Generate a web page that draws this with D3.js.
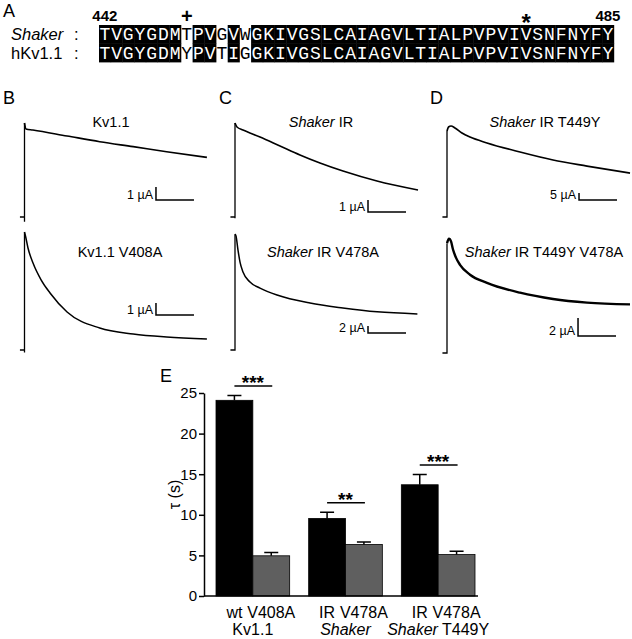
<!DOCTYPE html>
<html><head><meta charset="utf-8">
<script src="https://cdn.jsdelivr.net/npm/d3@7"></script>
<style>
html,body{margin:0;padding:0;background:#fff;}
svg{display:block;font-family:"Liberation Sans",Arial,Helvetica,sans-serif;}
</style></head><body>
<svg id="fig" width="632" height="639"></svg>
<script>
// ================= DATA =================
// Panel A: sequence alignment
const seqStart = 442;
const seqShaker = "TVGYGDMTPVGVWGKIVGSLCAIAGVLTIALPVPVIVSNFNYFY";
const seqKv11   = "TVGYGDMYPVTIGGKIVGSLCAIAGVLTIALPVPVIVSNFNYFY";
const seqRowNames = ["Shaker", "hKv1.1"];
const unshadedResidues = [449, 452, 454];
const residueMarks = [{res: 449, sym: "+"}, {res: 478, sym: "*"}];
const numberedResidues = [442, 485];

// Panels B-D: current traces, [time (s), current (µA)]
const traceKv11 = [[-0.6,0],[0,0],[0,-0.37],[0,7.23],[0.2,6.77],[1.1,6.69],[5.6,6.23],[9.9,5.79],[14.3,5.41],[18.7,5.02],[24,4.59]];
const traceKv11V408A = [[-0.6,0],[0,0],[0,-0.2],[0,9.83],[0.13,9.5],[0.46,8.5],[1.12,7.25],[2.2,5.83],[3.36,4.75],[5.6,3.17],[9.9,1.83],[14.3,1.33],[18.7,1.08],[24,0.92]];
const traceShakerIR = [[-0.6,0],[0,0],[0,-0.1],[0,7.83],[0.26,7.5],[1.05,7.25],[3.29,6.67],[5.92,5.92],[8.55,5.17],[11.18,4.5],[14.21,3.83],[18.68,3.0],[24.08,2.25]];
const traceShakerV478A = [[-0.6,0],[0,0],[0,33.1],[0.13,32.6],[0.39,28.6],[0.66,25.1],[1.05,22.3],[1.97,19.4],[3.29,17.7],[5.53,15.7],[9.87,13.4],[14.2,12.0],[18.7,10.9],[24,10.3]];
const traceT449Y = [[-0.6,0],[0,0],[0,61.4],[0.2,64.3],[0.53,65.0],[1.05,63.6],[1.97,60.0],[3.03,57.1],[5.26,52.9],[9.61,46.4],[13.95,40.7],[18.42,36.4],[24.08,31.4]];
const traceT449YV478A = [[-0.6,0],[0,0],[0,12.2],[0.26,12.7],[0.53,12.4],[0.79,11.5],[1.18,10.6],[1.71,9.8],[3.03,8.7],[5.26,7.8],[9.61,6.7],[13.95,6.0],[18.42,5.6],[24.08,5.4]];
const traceTitles = ["Kv1.1", "Kv1.1 V408A", "Shaker IR", "Shaker IR V478A", "Shaker IR T449Y", "Shaker IR T449Y V478A"];
const scaleBarUA = [1, 1, 1, 2, 5, 2];
const scaleBarSec = 5;

// Panel E: inactivation time constants
const barLabels = ["wt", "V408A", "IR", "V478A", "IR", "V478A"];
const groupLabels = ["Kv1.1", "Shaker", "Shaker T449Y"];
const tauMean = [24.1, 4.95, 9.55, 6.35, 13.7, 5.1];
const tauSEM  = [0.6, 0.4, 0.75, 0.3, 1.25, 0.4];
const sigLabels = ["***", "**", "***"];
const yTicks = [0, 5, 10, 15, 20, 25];

// ================= LAYOUT =================
const svg = d3.select("#fig");
function rich(sel, str) {
  str.split(/(Shaker)/).filter(s => s.length).forEach(p =>
    sel.append("tspan").attr("font-style", p === "Shaker" ? "italic" : "normal").text(p));
  return sel;
}
function panelLetter(x, y, s) {
  svg.append("text").attr("x", x).attr("y", y).attr("font-size", 18).text(s);
}

// ---------- Panel A ----------
panelLetter(3, 17, "A");
const resNums = d3.range(seqStart, seqStart + seqShaker.length);
const resX = d3.scaleBand().domain(resNums).range([99, 99 + 11.7 * resNums.length]);
const rowY = d3.scaleBand().domain([0, 1]).range([25, 62]);
[seqShaker, seqKv11].forEach((seq, ri) => {
  const g = svg.append("g");
  g.selectAll("rect").data(resNums.filter(r => !unshadedResidues.includes(r))).join("rect")
    .attr("x", r => resX(r)).attr("y", rowY(ri))
    .attr("width", resX.bandwidth() + 0.4).attr("height", rowY.bandwidth() + 0.4).attr("fill", "#000");
  g.selectAll("text").data(resNums).join("text")
    .attr("x", r => resX(r) + resX.bandwidth() / 2).attr("y", rowY(ri) + 15)
    .attr("text-anchor", "middle").attr("font-family", "'Liberation Mono', monospace").attr("font-size", 18)
    .attr("fill", r => unshadedResidues.includes(r) ? "#000" : "#fff")
    .text(r => seq[r - seqStart]);
  const lab = svg.append("text").attr("x", 11).attr("y", rowY(ri) + 15).attr("font-size", 16.5);
  if (seqRowNames[ri] === "Shaker") lab.attr("font-style", "italic");
  lab.text(seqRowNames[ri]);
  svg.append("text").attr("x", 74).attr("y", rowY(ri) + 15).attr("font-size", 16.5).text(":");
});
svg.selectAll("text.num").data(numberedResidues).join("text").attr("class", "num")
  .attr("x", r => resX(r) + resX.bandwidth() / 2).attr("y", 21)
  .attr("text-anchor", "middle").attr("font-size", 15).attr("font-weight", "bold").text(r => r);
svg.selectAll("text.mark").data(residueMarks).join("text").attr("class", "mark")
  .attr("x", d => resX(d.res) + resX.bandwidth() / 2)
  .attr("y", d => d.sym === "*" ? 31 : 23)
  .attr("text-anchor", "middle").attr("font-weight", "bold")
  .attr("font-size", d => d.sym === "*" ? 24 : 20).text(d => d.sym);

// ---------- Panels B-D ----------
panelLetter(3, 104, "B");
panelLetter(219, 104, "C");
panelLetter(430, 104, "D");
const traces = [traceKv11, traceKv11V408A, traceShakerIR, traceShakerV478A, traceT449Y, traceT449YV478A];
const layout = [
  {x0: 24.5, base: 217, k: 13,  tx: 111, ty: 127, bt: 17.3,  bi: 1.31,  lw: 1.7},
  {x0: 24.5, base: 350, k: 12,  tx: 120, ty: 257, bt: 17.3,  bi: 2.92,  lw: 1.5},
  {x0: 235,  base: 217, k: 12,  tx: 321, ty: 127, bt: 17.5,  bi: 0.42,  lw: 1.6},
  {x0: 235,  base: 350, k: 3.5, tx: 323, ty: 257, bt: 17.5,  bi: 4.86,  lw: 1.5},
  {x0: 447,  base: 217, k: 1.4, tx: 545, ty: 127, bt: 17.37, bi: 12.14, lw: 1.7},
  {x0: 447,  base: 353, k: 9,   tx: 544, ty: 257, bt: 17.24, bi: 1.89,  lw: 2.4}
];
traces.forEach((data, i) => {
  const L = layout[i];
  const g = svg.append("g");
  const x = d3.scaleLinear().domain([0, 24]).range([L.x0, L.x0 + 24 * 7.6]);
  const y = d3.scaleLinear().domain([0, 1]).range([L.base, L.base - L.k]);
  const split = data.findIndex(d => d[0] > 0) - 1;
  const lin = d3.line().x(d => x(d[0])).y(d => y(d[1]));
  g.append("path").attr("d", lin(data.slice(0, split + 1)))
    .attr("fill", "none").attr("stroke", "#000").attr("stroke-width", 1.3);
  g.append("path").attr("d", lin.curve(d3.curveMonotoneX)(data.slice(split)))
    .attr("fill", "none").attr("stroke", "#000").attr("stroke-width", L.lw).attr("stroke-linejoin", "round");
  const bx = x(L.bt), by = y(L.bi);
  g.append("path")
    .attr("d", `M${bx},${y(L.bi + scaleBarUA[i])}V${by}H${x(L.bt + scaleBarSec)}`)
    .attr("fill", "none").attr("stroke", "#000").attr("stroke-width", 1.5);
  g.append("text").attr("x", bx - 3).attr("y", by - 1).attr("text-anchor", "end")
    .attr("font-size", 12.5).text(`${scaleBarUA[i]} µA`);
  rich(g.append("text").attr("x", L.tx).attr("y", L.ty).attr("text-anchor", "middle").attr("font-size", 14.5), traceTitles[i]);
});

// ---------- Panel E ----------
panelLetter(160, 382, "E");
const yE = d3.scaleLinear().domain([0, 25]).range([596, 393]);
const xG = d3.scaleBand().domain(groupLabels).range([216, 475]).paddingInner(0.205).paddingOuter(0);
const xS = d3.scaleBand().domain([0, 1]).range([0, xG.bandwidth()]);
const bars = tauMean.map((v, i) => ({v, e: tauSEM[i], lab: barLabels[i], g: groupLabels[Math.floor(i / 2)], s: i % 2}));
const gE = svg.append("g");
gE.selectAll("rect.bar").data(bars).join("rect").attr("class", "bar")
  .attr("x", d => xG(d.g) + xS(d.s)).attr("width", xS.bandwidth())
  .attr("y", d => yE(d.v)).attr("height", d => yE(0) - yE(d.v))
  .attr("fill", d => d.s ? "#5f5f5f" : "#000").attr("stroke", "#000").attr("stroke-width", 0.8);
gE.selectAll("path.err").data(bars).join("path").attr("class", "err")
  .attr("d", d => {
    const cx = xG(d.g) + xS(d.s) + xS.bandwidth() / 2;
    return `M${cx},${yE(d.v)}V${yE(d.v + d.e)}M${cx - 7},${yE(d.v + d.e)}H${cx + 7}`;
  })
  .attr("fill", "none").attr("stroke", "#000").attr("stroke-width", 1.5);
const yAx = gE.append("g").attr("transform", "translate(204,0)")
  .call(d3.axisLeft(yE).tickValues(yTicks).tickSize(5).tickSizeOuter(0));
yAx.select(".domain").attr("stroke-width", 1.5);
yAx.selectAll(".tick line").attr("stroke-width", 1.5);
yAx.selectAll(".tick text").attr("font-size", 15).attr("font-family", "'Liberation Sans', Arial, sans-serif").attr("x", -7);
gE.append("line").attr("x1", 204).attr("x2", 478).attr("y1", yE(0)).attr("y2", yE(0))
  .attr("stroke", "#000").attr("stroke-width", 1.5);
gE.append("text").attr("transform", `translate(180,${(yE(0) + yE(25)) / 2}) rotate(-90)`)
  .attr("text-anchor", "middle").attr("font-size", 16).text("τ (s)");
gE.selectAll("text.xl").data(bars).join("text").attr("class", "xl")
  .attr("x", d => xG(d.g) + xS(d.s) + xS.bandwidth() / 2).attr("y", 618)
  .attr("text-anchor", "middle").attr("font-size", 16).text(d => d.lab);
groupLabels.forEach(gl => {
  rich(gE.append("text").attr("x", xG(gl) + xG.bandwidth() / 2).attr("y", 635)
    .attr("text-anchor", "middle").attr("font-size", 16), gl);
});
groupLabels.forEach((gl, gi) => {
  const top = Math.max(tauMean[2 * gi] + tauSEM[2 * gi], tauMean[2 * gi + 1] + tauSEM[2 * gi + 1]);
  const ly = yE(top) - 9.5;
  const x1 = xG(gl) + xS(0) + xS.bandwidth() / 2, x2 = xG(gl) + xS(1) + xS.bandwidth() / 2;
  gE.append("line").attr("x1", x1).attr("x2", x2 + 1).attr("y1", ly).attr("y2", ly)
    .attr("stroke", "#000").attr("stroke-width", 1.5);
  gE.append("text").attr("x", (x1 + x2) / 2).attr("y", ly + 3).attr("text-anchor", "middle")
    .attr("font-size", 19).attr("font-weight", "bold").text(sigLabels[gi]);
});
</script>
</body></html>
